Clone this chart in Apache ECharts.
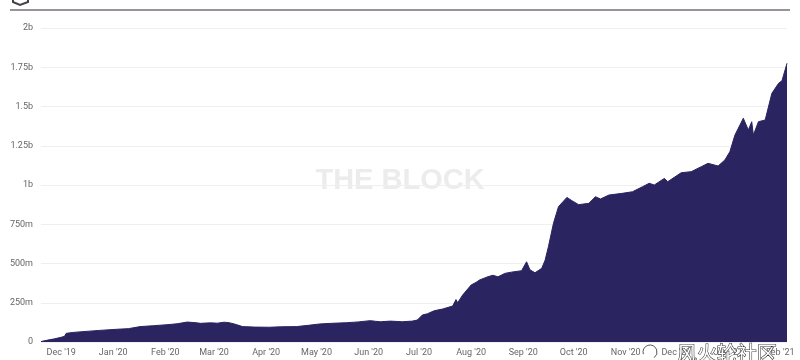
<!DOCTYPE html>
<html>
<head>
<meta charset="utf-8">
<script src="https://cdn.jsdelivr.net/npm/echarts@6/dist/echarts.min.js"></script>
<style>
html,body{margin:0;padding:0;background:#fff;}
#chart{width:800px;height:360px;}
</style>
</head>
<body>
<div id="chart"></div>
<script>
const dates = [
'2019-11-19','2019-11-23','2019-11-27','2019-12-01','2019-12-03','2019-12-04','2019-12-08','2019-12-14','2019-12-24',
'2020-01-03','2020-01-10','2020-01-17','2020-01-25','2020-02-02','2020-02-08','2020-02-14','2020-02-18','2020-02-22','2020-02-28',
'2020-03-03','2020-03-07','2020-03-10','2020-03-13','2020-03-18','2020-03-25','2020-04-03','2020-04-10','2020-04-19','2020-04-26',
'2020-05-03','2020-05-10','2020-05-19','2020-05-26','2020-06-02','2020-06-05','2020-06-08','2020-06-14','2020-06-21','2020-06-27','2020-06-30',
'2020-07-03','2020-07-06','2020-07-10','2020-07-15','2020-07-21','2020-07-23','2020-07-24','2020-07-27',
'2020-08-01','2020-08-04','2020-08-06','2020-08-11','2020-08-14','2020-08-17','2020-08-21','2020-08-25','2020-08-31',
'2020-09-03','2020-09-05','2020-09-08','2020-09-12','2020-09-14','2020-09-16','2020-09-19','2020-09-22','2020-09-27','2020-09-30',
'2020-10-04','2020-10-10','2020-10-14','2020-10-17','2020-10-22','2020-10-30',
'2020-11-05','2020-11-11','2020-11-15','2020-11-18','2020-11-24','2020-11-26',
'2020-12-04','2020-12-10','2020-12-16','2020-12-20','2020-12-26','2020-12-30',
'2021-01-02','2021-01-05','2021-01-10','2021-01-13','2021-01-15','2021-01-16','2021-01-19','2021-01-23','2021-01-27','2021-01-31',
'2021-02-02','2021-02-05'
];
// values in millions
const values = [
3,12,20,30,36,55,61,66,74,
81,85,98,104,110,116,127,124,119,122,
120,126,123,115,98,95,94,97,98,106,
115,119,123,128,136,132,129,133,129,133,140,
172,180,199,210,229,270,250,300,
363,380,395,416,425,415,437,445,454,
511,460,441,469,520,607,756,862,921,900,
875,883,925,911,936,947,
957,989,1011,1000,1042,1021,
1078,1085,1117,1138,1121,1159,
1212,1318,1425,1350,1403,1318,1403,1414,1584,1648,
1664,1775
];
const yTicks = ['0','250m','500m','750m','1b','1.25b','1.5b','1.75b','2b'];
const monthNames = ['Jan','Feb','Mar','Apr','May','Jun','Jul','Aug','Sep','Oct','Nov','Dec'];

const chart = echarts.init(document.getElementById('chart'), null, {renderer:'canvas'});
const day = 86400000;
chart.setOption({
  animation:false,
  backgroundColor:'#ffffff',
  grid:{left:41, right:13, top:28, bottom:18, containLabel:false},
  xAxis:{
    type:'time',
    min:dates[0],
    max:dates[dates.length-1],
    splitNumber:15,
    minInterval:28*day,
    maxInterval:31*day,
    axisLine:{show:false},
    axisTick:{show:false},
    splitLine:{show:false},
    axisLabel:{
      interval:0,
      color:'#666',
      fontSize:9,
      fontFamily:'Roboto, sans-serif',
      margin:6,
      formatter:function(v){
        const d = new Date(v);
        return monthNames[d.getMonth()] + " '" + String(d.getFullYear()).slice(2);
      }
    }
  },
  yAxis:{
    type:'value',
    min:0, max:2000, interval:250,
    axisLine:{show:false},
    axisTick:{show:false},
    splitLine:{lineStyle:{color:'#efefef', width:1}},
    axisLabel:{
      color:'#666', fontSize:9, fontFamily:'Roboto, sans-serif', margin:8,
      formatter:function(v){ return yTicks[Math.round(v/250)]; }
    }
  },
  graphic:[
    {type:'text', left:'center', top:166, z:0, silent:true,
     style:{text:'THE BLOCK', fill:'#ececec', font:'bold 29px "Liberation Sans", Arial, sans-serif'}},
    {type:'line', shape:{x1:10, y1:10, x2:790, y2:10}, style:{stroke:'#7a6f7a', lineWidth:1.5}},
    {type:'polyline', shape:{points:[[13,0],[13,2],[20,5],[28,2],[28,0]]}, style:{stroke:'#444', lineWidth:2, fill:null}},
    {type:'arc', shape:{cx:650, cy:352, r:7, startAngle:Math.PI*0.9, endAngle:Math.PI*2.3}, style:{fill:null, stroke:'#555', lineWidth:1}, z:100},
    {type:'text', x:677, y:343, z:100,
     style:{text:'风火轮社区', fill:'#ffffff', stroke:'#333333', lineWidth:1.1, font:'20px "Noto Sans CJK SC", sans-serif'}}
  ],
  series:[{
    type:'line',
    data:dates.map((d,i)=>[d, values[i]]),
    showSymbol:false,
    smooth:false,
    lineStyle:{width:1, color:'#2a2460'},
    itemStyle:{color:'#2a2460'},
    areaStyle:{color:'#2a2460', opacity:1},
    z:5
  }]
});
</script>
</body>
</html>
